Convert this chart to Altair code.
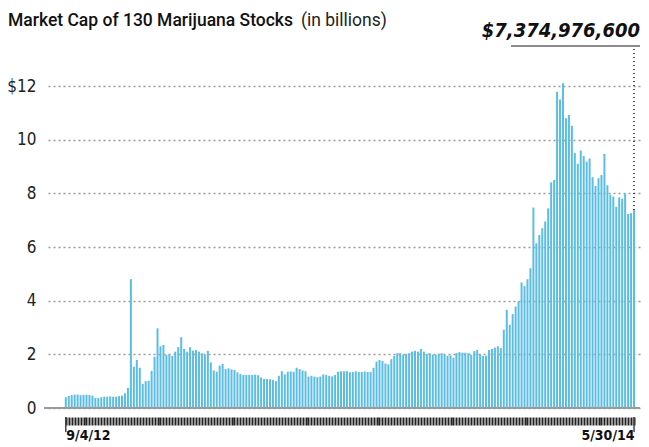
import altair as alt
import pandas as pd

# Market cap (billions USD), one bar per period from 9/4/12 to 5/30/14
values = [
    0.40, 0.45, 0.48, 0.50, 0.50, 0.48, 0.49, 0.50, 0.48, 0.46,
    0.38, 0.37, 0.40, 0.42, 0.42, 0.43, 0.42, 0.42, 0.44, 0.46,
    0.55, 0.75, 4.80, 1.54, 1.79, 1.50, 0.90, 1.00, 1.02, 1.38,
    1.91, 2.97, 2.30, 2.35, 1.98, 2.00, 1.94, 2.10, 2.27, 2.64,
    2.20, 2.10, 2.26, 2.14, 2.16, 2.10, 2.04, 1.98, 2.13, 1.70,
    1.40, 1.35, 1.58, 1.64, 1.45, 1.48, 1.44, 1.42, 1.33, 1.27,
    1.23, 1.23, 1.23, 1.23, 1.24, 1.22, 1.14, 1.08, 1.08, 1.07,
    1.04, 1.00, 1.20, 1.37, 1.25, 1.35, 1.36, 1.35, 1.50, 1.45,
    1.40, 1.37, 1.17, 1.20, 1.17, 1.15, 1.17, 1.25, 1.23, 1.20,
    1.18, 1.23, 1.35, 1.37, 1.37, 1.37, 1.33, 1.34, 1.37, 1.34,
    1.34, 1.36, 1.34, 1.34, 1.50, 1.73, 1.79, 1.75, 1.66, 1.63,
    1.82, 1.94, 2.04, 2.04, 1.99, 2.02, 2.04, 2.10, 2.13, 2.10,
    2.20, 2.10, 2.02, 2.04, 1.99, 1.99, 2.02, 2.04, 1.99, 1.95,
    1.96, 1.87, 2.05, 2.08, 2.06, 2.06, 2.04, 1.98, 2.12, 2.16,
    2.00, 1.94, 1.95, 2.16, 2.20, 2.25, 2.30, 2.23, 2.92, 3.66,
    3.10, 3.50, 3.78, 3.97, 4.68, 4.55, 4.80, 5.21, 7.47, 6.14,
    6.45, 6.70, 6.95, 7.44, 8.41, 8.50, 11.79, 11.50, 12.10, 10.80,
    10.92, 10.52, 9.50, 9.10, 9.60, 9.39, 9.18, 9.30, 8.60, 8.27,
    8.56, 8.68, 9.47, 8.30, 7.95, 7.88, 7.50, 7.85, 7.80, 8.00,
    7.23, 7.26, 7.375,
]
end_labels = ["9/4/12", "5/30/14"]
y_ticks = [0, 2, 4, 6, 8, 10, 12]
title_main = "Market Cap of 130 Marijuana Stocks"
title_unit = "(in billions)"
headline = "$7,374,976,600"

N = len(values)
df = pd.DataFrame({"idx": list(range(N)), "value": values})
ends = df.iloc[[0, N - 1]]
last = df.iloc[[N - 1]]
zero = pd.DataFrame({"value": [0]})

LEFT = 40
W, H = 592, 322
first_px = 61 - 8 - LEFT  # first bar centre inside plot
step = 578 / (N - 1)
x_dom = [-first_px / step, (N - 1) + (W - first_px - 578) / step]

NARROW = "DejaVu Sans Condensed, Roboto, sans-serif"
BAR = "#5cbde3"

x_enc = alt.X(
    "idx:Q",
    scale=alt.Scale(domain=x_dom, nice=False, zero=False),
    axis=alt.Axis(
        values=list(range(N)),
        labelExpr=f"datum.value == 0 ? '{end_labels[0]}' : (datum.value == {N-1} ? '{end_labels[1]}' : '')",
        labelAlign={"condition": {"test": "datum.value == 0", "value": "left"}, "value": "right"},
        labelFont=NARROW,
        labelFontWeight="bold",
        labelFontSize=14,
        labelColor="#111",
        labelPadding=3,
        labelBaseline="top",
        labelOverlap=False,
        tickSize=8,
        tickWidth=2,
        tickColor="#222",
        domain=False,
        grid=False,
        offset=9,
        title=None,
    ),
)
y_enc = alt.Y(
    "value:Q",
    scale=alt.Scale(domain=[0, 12], nice=False),
    axis=alt.Axis(
        values=y_ticks,
        labelExpr="datum.value == 12 ? '$12' : datum.label",
        labelFont=NARROW,
        labelFontSize=17,
        labelColor="#222",
        labelPadding=12,
        ticks=False,
        tickSize=0,
        domain=False,
        grid=True,
        gridDash=[2, 3],
        gridColor="#9a9a9a",
        gridWidth=1.3,
        title=None,
    ),
)

bars = alt.Chart(df).mark_bar(size=2, color=BAR).encode(x=x_enc, y=y_enc)

end_ticks = alt.Chart(ends).mark_rule(color="#444", strokeWidth=1.5).encode(
    x=x_enc, y=alt.value(H + 9), y2=alt.value(H + 24)
)

baseline = alt.Chart(zero).mark_rule(color="#9a9a9a", strokeWidth=2).encode(
    y=y_enc, x=alt.value(-4), x2=alt.value(W),
)

pointer = alt.Chart(last).mark_rule(color="#111", strokeWidth=1.5, strokeDash=[1, 3]).encode(
    x=x_enc, y=y_enc, y2=alt.value(-38)
)

underline = alt.Chart(zero).mark_rule(color="#666", strokeWidth=1.5).encode(
    x=alt.value(511 - 8 - LEFT), x2=alt.value(W), y=alt.value(-40)
)

t1 = alt.Chart(pd.DataFrame({"t": [title_main]})).mark_text(
    font="Roboto", fontSize=17.5, fontWeight=500, color="#111", align="left", baseline="alphabetic"
).encode(text="t:N", x=alt.value(-LEFT), y=alt.value(-60))

t2 = alt.Chart(pd.DataFrame({"t": [title_unit]})).mark_text(
    font="Roboto", fontSize=17.5, fontWeight=400, color="#222", align="left", baseline="alphabetic"
).encode(text="t:N", x=alt.value(301 - 8 - LEFT), y=alt.value(-60))

t3 = alt.Chart(pd.DataFrame({"t": [headline]})).mark_text(
    font=NARROW, fontSize=20, fontWeight="bold", fontStyle="italic", color="#111",
    align="right", baseline="alphabetic"
).encode(text="t:N", x=alt.value(W), y=alt.value(-49))

chart = alt.layer(bars, baseline, end_ticks, pointer, underline, t1, t2, t3).properties(
    width=W, height=H,
    autosize=alt.AutoSizeParams(type="none"),
    padding={"left": LEFT, "top": 78, "right": 1, "bottom": 39},
).configure_view(stroke=None)

chart.save("out.html", embed_options={"renderer": "svg", "actions": False})
